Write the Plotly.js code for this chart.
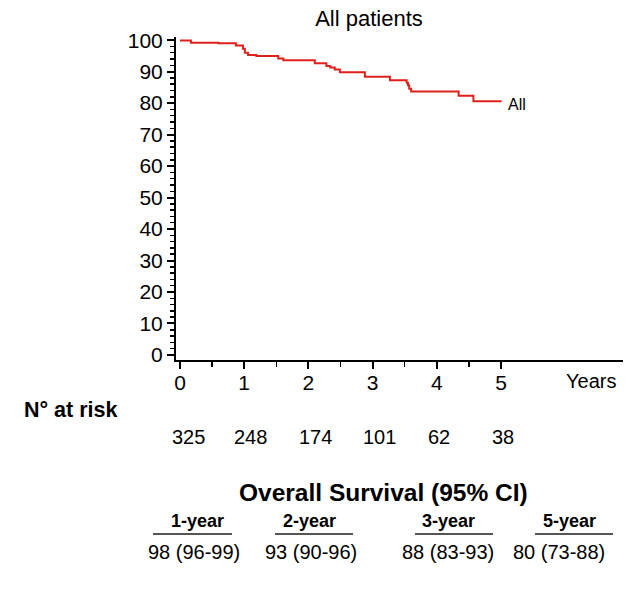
<!DOCTYPE html>
<html>
<head>
<meta charset="utf-8">
<script src="https://cdn.plot.ly/plotly-3.0.1.min.js"></script>
<style>html,body{margin:0;padding:0;background:#fff;}#chart{width:643px;height:602px;}</style>
</head>
<body>
<div id="chart"></div>
<script>
// Kaplan-Meier curve (years, % survival)
const kmTimes    = [0, 0.17, 0.60, 0.87, 0.98, 1.01, 1.06, 1.19, 1.53, 1.61, 2.10, 2.28, 2.34, 2.41, 2.49, 2.88, 3.27, 3.53, 3.55, 3.57, 3.60, 3.63, 4.34, 4.57, 5.01];
const kmSurvival = [99.9, 99.2, 99.0, 98.3, 97.3, 96.0, 95.3, 95.0, 94.2, 93.6, 92.7, 91.8, 91.3, 90.7, 89.8, 88.4, 87.3, 86.5, 85.7, 84.6, 83.7, 83.7, 82.3, 80.6, 80.6];
const seriesName = "All";

// Numbers at risk
const atRiskYears = [0, 1, 2, 3, 4, 5];
const atRiskN     = [325, 248, 174, 101, 62, 38];

// Overall survival table
const osHeaders = ["1-year", "2-year", "3-year", "5-year"];
const osValues  = ["98 (96-99)", "93 (90-96)", "88 (83-93)", "80 (73-88)"];

const xTicks = [0, 1, 2, 3, 4, 5];
const xMinorTicks = [0.5, 1.5, 2.5, 3.5, 4.5];

// ---- layout helpers (pixel -> paper) ----
const L = 176, R = 20, T = 37, B = 242, W = 643, H = 602;
const PW = W - L - R, PH = H - T - B;
const px = p => (p - L) / PW;
const py = p => (H - B - p) / PH;

const FONT = "Liberation Sans, Arial, sans-serif";

const annotations = [];
// Series label
annotations.push({xref: "x", yref: "y", x: 5.08, y: 79.6, text: seriesName, showarrow: false,
  xanchor: "left", yanchor: "middle", font: {family: FONT, size: 16, color: "#000"}});
// Years label
annotations.push({xref: "paper", yref: "paper", x: px(591), y: py(381), text: "Years", showarrow: false,
  xanchor: "center", yanchor: "middle", font: {family: FONT, size: 20, color: "#000"}});
// N at risk
annotations.push({xref: "paper", yref: "paper", x: px(22), y: py(410), text: "<b>N° at risk</b>", showarrow: false,
  xanchor: "left", yanchor: "middle", font: {family: FONT, size: 21.5, color: "#000"}});
const riskShift = [8, 6, 7, 7, 2, 2];
atRiskYears.forEach((yr, i) => {
  annotations.push({xref: "x", yref: "paper", x: yr, xshift: riskShift[i], y: py(437), text: String(atRiskN[i]), showarrow: false,
    xanchor: "center", yanchor: "middle", font: {family: FONT, size: 20, color: "#000"}});
});
// Overall survival table
annotations.push({xref: "paper", yref: "paper", x: px(383), y: py(493), text: "<b>Overall Survival (95% CI)</b>", showarrow: false,
  xanchor: "center", yanchor: "middle", font: {family: FONT, size: 24.5, color: "#000"}});
const headerCenters = [197, 309, 448, 569];
const valueCenters  = [194, 311, 448, 559];
const lineSpans = [[153, 232], [275, 353], [415, 493], [535, 613]];
const shapes = [];
osHeaders.forEach((h, i) => {
  annotations.push({xref: "paper", yref: "paper", x: px(headerCenters[i]), y: py(521), text: "<b>" + h + "</b>", showarrow: false,
    xanchor: "center", yanchor: "middle", font: {family: FONT, size: 18, color: "#000"}});
  annotations.push({xref: "paper", yref: "paper", x: px(valueCenters[i]), y: py(552), text: osValues[i], showarrow: false,
    xanchor: "center", yanchor: "middle", font: {family: FONT, size: 20, color: "#000"}});
  shapes.push({type: "line", xref: "paper", yref: "paper", x0: px(lineSpans[i][0]), x1: px(lineSpans[i][1]),
    y0: py(534), y1: py(534), line: {color: "#555", width: 2}});
});

const trace = {
  x: kmTimes, y: kmSurvival, type: "scatter", mode: "lines",
  line: {shape: "hv", color: "#e0201b", width: 2}, name: seriesName, hoverinfo: "skip"
};

const layout = {
  width: W, height: H,
  margin: {l: L, r: R, t: T, b: B, pad: 0},
  paper_bgcolor: "#fff", plot_bgcolor: "#fff",
  showlegend: false,
  font: {family: FONT, size: 20, color: "#000"},
  title: {text: "All patients", xref: "container", yref: "container", x: 369 / W, y: 1 - 18 / H,
    xanchor: "center", yanchor: "middle", font: {family: FONT, size: 22, color: "#000"}},
  xaxis: {
    range: [-0.0623, 6.90], showgrid: false, zeroline: false,
    showline: true, linecolor: "#000", linewidth: 2,
    tickmode: "array", tickvals: xTicks, ticktext: xTicks.map(String),
    ticks: "outside", ticklen: 7, tickwidth: 2, tickcolor: "#000",
    ticklabelstandoff: -4,
    minor: {tickmode: "array", tickvals: xMinorTicks, ticks: "outside", ticklen: 5, tickwidth: 1.5, tickcolor: "#000", showgrid: false},
    tickfont: {family: FONT, size: 21, color: "#000"}, fixedrange: true
  },
  yaxis: {
    range: [-1.6, 101], showgrid: false, zeroline: false,
    showline: true, linecolor: "#000", linewidth: 2,
    tickmode: "linear", tick0: 0, dtick: 10,
    ticks: "outside", ticklen: 7, tickwidth: 2, tickcolor: "#000",
    minor: {tickmode: "linear", tick0: 0, dtick: 2, ticks: "outside", ticklen: 4, tickwidth: 1.5, tickcolor: "#000", showgrid: false},
    tickfont: {family: FONT, size: 21, color: "#000"}, fixedrange: true
  },
  annotations: annotations,
  shapes: shapes
};

Plotly.newPlot("chart", [trace], layout, {displayModeBar: false, staticPlot: true});
</script>
</body>
</html>
